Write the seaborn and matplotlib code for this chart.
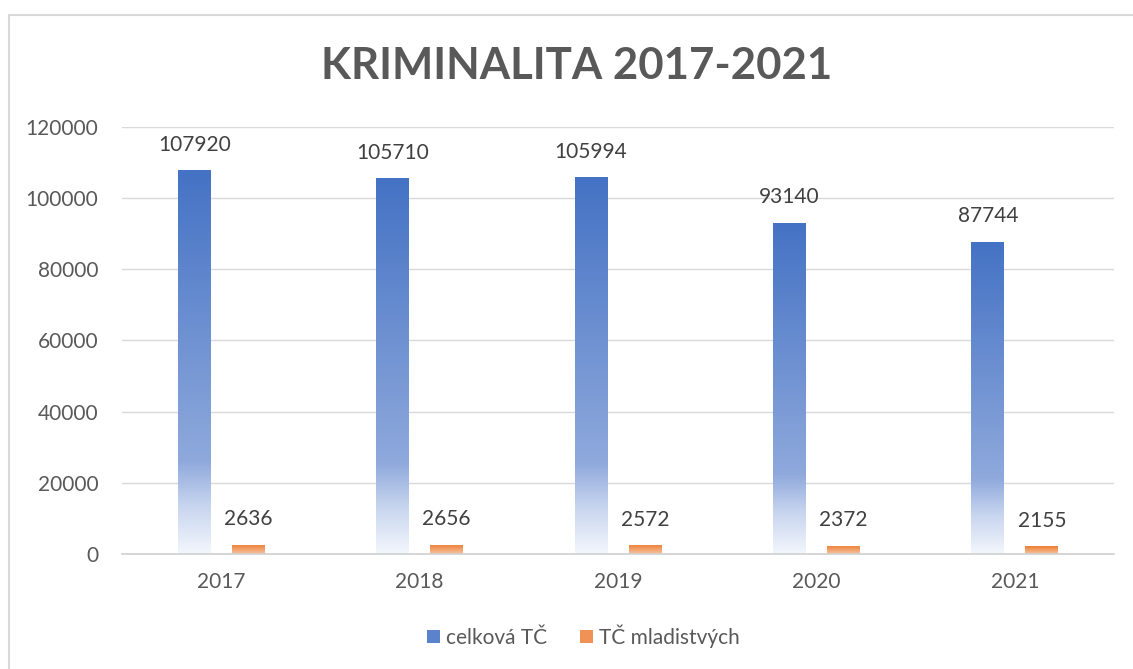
import numpy as np
import pandas as pd
import matplotlib.pyplot as plt
import seaborn as sns
from matplotlib.colors import LinearSegmentedColormap
from matplotlib.patches import Patch
from matplotlib.lines import Line2D

years = ['2017', '2018', '2019', '2020', '2021']
celkova = [107920, 105710, 105994, 93140, 87744]
mladistvych = [2636, 2656, 2572, 2372, 2155]
series_names = ['celková TČ', 'TČ mladistvých']
y_ticks = [0, 20000, 40000, 60000, 80000, 100000, 120000]

df = pd.DataFrame({
    'rok': years * 2,
    'hodnota': celkova + mladistvych,
    'serie': [series_names[0]] * len(years) + [series_names[1]] * len(years),
})

sns.set_style('white')
plt.rcParams['font.family'] = ['Lato', 'DejaVu Sans']

blue_cmap = LinearSegmentedColormap.from_list(
    'blue_grad', [(0.0, '#F3F6FC'), (0.12, '#C9D6EF'), (0.24, '#8FA9DC'), (1.0, '#4472C4')])
orange_cmap = LinearSegmentedColormap.from_list(
    'orange_grad', [(0.0, '#F7C3A0'), (1.0, '#ED7D31')])

fig = plt.figure(figsize=(11.33, 6.69), dpi=100)
ax = fig.add_axes([0.1077, 0.1719, 0.8755, 0.6383])

sns.barplot(data=df, x='rok', y='hodnota', hue='serie', order=years,
            hue_order=series_names, palette=['#4472C4', '#ED7D31'],
            width=0.544, gap=0.39, ax=ax, legend=False)

ax.set_ylim(0, 120000)
ax.set_xlim(-0.5, len(years) - 0.5)

# gradient fill inside each bar
grad = np.linspace(0, 1, 256).reshape(-1, 1)
for cont, cmap in zip(ax.containers, [blue_cmap, orange_cmap]):
    for bar in cont:
        x0, y0 = bar.get_x(), bar.get_y()
        w, h = bar.get_width(), bar.get_height()
        im = ax.imshow(grad, cmap=cmap, origin='lower', aspect='auto',
                       extent=[x0, x0 + w, y0, y0 + h], zorder=2)
        im.set_clip_path(bar)
        bar.set_facecolor('none')
        bar.set_edgecolor('none')
    ax.bar_label(cont, labels=[f'{int(v)}' for v in cont.datavalues],
                 padding=11, fontsize=15, color='#404040')

ax.set_xlim(-0.5, len(years) - 0.5)
ax.set_ylim(0, 120000)
ax.set_yticks(y_ticks)
ax.set_yticklabels([str(t) for t in y_ticks])
ax.set_xlabel('')
ax.set_ylabel('')
ax.set_axisbelow(True)
ax.yaxis.grid(True, color='#D9D9D9', linewidth=1)
for s in ['top', 'right', 'left']:
    ax.spines[s].set_visible(False)
ax.spines['bottom'].set_color('#D0D0D0')
ax.spines['bottom'].set_linewidth(1.2)
ax.tick_params(axis='y', length=0, pad=17, labelsize=15, labelcolor='#595959')
ax.tick_params(axis='x', length=0, pad=13, labelsize=15, labelcolor='#595959')

fig.text(0.5085, 0.901, 'KRIMINALITA 2017-2021', ha='center', va='center',
         fontsize=31.5, fontweight='bold', color='#595959')

handles = [Patch(facecolor='#5A83CC', edgecolor='none'),
           Patch(facecolor='#F09256', edgecolor='none')]
fig.legend(handles, series_names, loc='center', bbox_to_anchor=(0.515, 0.049),
           ncol=2, frameon=False, fontsize=15, labelcolor='#595959',
           handlelength=0.6, handleheight=0.6, handletextpad=0.3, columnspacing=1.6)

# chart border (top and left visible in the cropped reference)
fig.add_artist(Line2D([9 / 1133, 9 / 1133], [0, 1 - 15 / 669], transform=fig.transFigure,
                      color='#D9D9D9', linewidth=1.5))
fig.add_artist(Line2D([9 / 1133, 1], [1 - 15 / 669, 1 - 15 / 669], transform=fig.transFigure,
                      color='#D9D9D9', linewidth=1.5))

fig.savefig('out.png', dpi=100)
